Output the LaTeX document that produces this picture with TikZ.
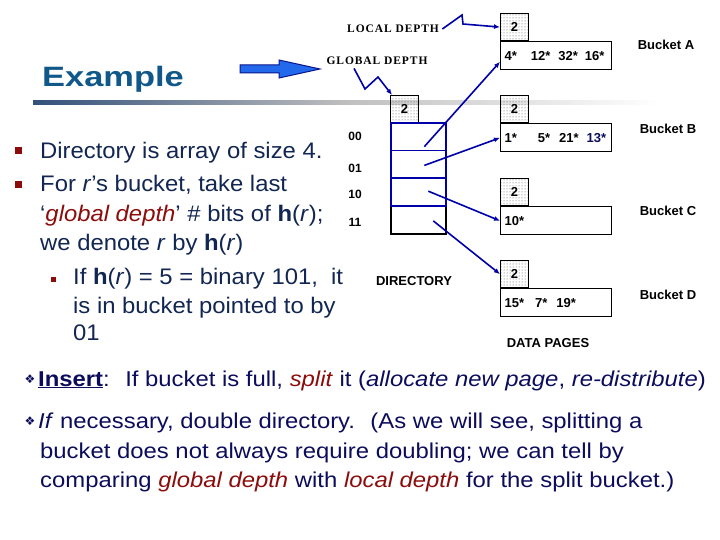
\documentclass[tikz,border=0pt]{standalone}
\usepackage{fontspec}
\setmainfont{Liberation Sans}
\newfontfamily\slidefont{Liberation Sans}[FakeStretch=1.06]
\newfontfamily\narrowfont{Liberation Sans}[FakeStretch=1.11]
\newfontfamily\titlefont{Liberation Sans}[FakeStretch=1.23]
\newfontfamily\labelserif{Liberation Serif}[LetterSpace=8]
\newfontfamily\symbfont{DejaVu Sans}
\usetikzlibrary{positioning,arrows.meta,patterns}

\definecolor{titleblue}{RGB}{16,88,138}
\definecolor{slidetext}{RGB}{18,38,82}
\definecolor{bottomtext}{RGB}{12,12,92}
\definecolor{darkred}{RGB}{140,12,12}
\definecolor{ptrblue}{RGB}{0,0,170}
\definecolor{arrowfill}{RGB}{35,105,235}
\definecolor{arrowedge}{RGB}{10,20,140}
\definecolor{ruleblue}{RGB}{50,80,122}
\newcommand{\boxfont}{\bfseries\fontsize{13}{13}\selectfont}

\begin{document}
\begin{tikzpicture}[x=1pt, y=-1pt, >={Latex[length=6pt,width=5pt]},
  lbox/.style={draw, line width=1.2pt, pattern=dots, pattern color=black!70,
    minimum width=28pt, minimum height=27pt, inner sep=0pt, font=\boxfont},
  dbox/.style={draw, fill=white, line width=1.2pt, minimum width=111pt, minimum height=28pt,
    inner sep=0pt, text width=103pt, align=left, font=\boxfont},
  dcell/.style={line width=1.6pt, minimum width=55pt, minimum height=27.75pt, inner sep=0pt},
  ptr/.style={->, ptrblue, line width=1.6pt},
  idx/.style={font=\bfseries\fontsize{12}{12}\selectfont},
  slideline/.style={anchor=base west, inner sep=0pt, text=slidetext, font=\slidefont\fontsize{22.5}{22.5}\selectfont},
  bottomline/.style={anchor=base west, inner sep=0pt, text=bottomtext, font=\narrowfont\fontsize{21.5}{21.5}\selectfont},
  sqbullet/.style={fill=darkred, inner sep=0pt, minimum size=7pt}]
  \useasboundingbox (0,0) rectangle (720,540);

  % title and rule
  \shade[left color=ruleblue, right color=white, middle color=black!25] (33,101) rectangle (660,105);
  \node[anchor=base west, inner sep=0pt, text=titleblue, font=\titlefont\bfseries\fontsize{28}{28}\selectfont] (title) at (42,87) {Example};

  % depth labels
  \node[font=\labelserif\bfseries\fontsize{11.5}{11.5}\selectfont] (ltext) at (393,29) {LOCAL DEPTH};
  \node[font=\labelserif\bfseries\fontsize{11.5}{11.5}\selectfont] (gtext) at (377,61) {GLOBAL DEPTH};
  \draw[fill=arrowfill, draw=arrowedge, line width=1pt] (240,65) -- (279,65) -- (279,60) -- (320,69) -- (279,78) -- (279,73) -- (240,73) -- cycle;

  % directory
  \node[lbox, anchor=north west] (gd) at (390,95) {2};
  \foreach \i/\c in {3/black,0/ptrblue,1/ptrblue,2/ptrblue}
    \node[dcell, draw=\c, anchor=north west] (dc\i) at (390,{122+27.75*\i}) {};
  \foreach \i/\b/\yy in {0/00/136,1/01/168,2/10/194,3/11/222}
    \node[idx] (b\i) at (355,\yy) {\b};
  \node[font=\boxfont] (dir) at (414,281) {DIRECTORY};

  % buckets
  \node[lbox, anchor=north west] (la) at (500,13) {2};
  \node[dbox, anchor=north west] (da) at (la.south west) {4*\hspace{14pt}12*\hspace{8pt}32*\hspace{7pt}16*};
  \node[lbox, anchor=north west] (lb) at (500,95) {2};
  \node[dbox, anchor=north west] (db) at (lb.south west) {1*\hspace{21pt}5*\hspace{9pt}21*\hspace{8pt}\textcolor{bottomtext}{13*}};
  \node[lbox, anchor=north west] (lc) at (500,178) {2};
  \node[dbox, anchor=north west] (dc) at (lc.south west) {10*};
  \node[lbox, anchor=north west] (ld) at (500,260) {2};
  \node[dbox, anchor=north west] (dd) at (ld.south west) {15*\hspace{11pt}7*\hspace{9pt}19*};
  \node[font=\boxfont] (nA) at (666,45) {Bucket A};
  \node[font=\boxfont] (nB) at (668,129) {Bucket B};
  \node[font=\boxfont] (nC) at (668,211) {Bucket C};
  \node[font=\boxfont] (nD) at (668,295) {Bucket D};
  \node[font=\boxfont] (pages) at (548,343) {DATA PAGES};

  % pointers
  \draw[ptr] (ltext.east) -- (462,15) -- (463,24) -- (la.west);
  \draw[ptr] ([xshift=31pt]gtext.south west) -- (365,89) -- (378,77) -- ([xshift=2pt]gd.north west);
  \draw[ptr] ([xshift=6pt,yshift=-10pt]dc0.center) -- ([yshift=-6pt]da.west);
  \draw[ptr] ([xshift=6pt,yshift=-1pt]dc1.center) -- (db.west);
  \draw[ptr] ([xshift=10pt,yshift=1pt]dc2.center) -- (dc.west);
  \draw[ptr] ([xshift=15pt,yshift=-1pt]dc3.center) -- (ld.west);

  % bullet text
  \node[sqbullet] (s1) at (18,151) {};
  \node[sqbullet] (s2) at (18,185) {};
  \node[sqbullet, minimum size=5pt] (s3) at (53,279) {};
  \node[slideline] (t1) at (40,159) {Directory is array of size 4.};
  \node[slideline] (t2) at (40,192) {For \textit{r}’s bucket, take last};
  \node[slideline] (t3) at (40,222) {‘\textcolor{darkred}{\textit{global depth}}’ \# bits of \textbf{h}(\textit{r});};
  \node[slideline] (t4) at (40,250) {we denote \textit{r} by \textbf{h}(\textit{r})};
  \node[slideline] (t5) at (73,284) {If \textbf{h}(\textit{r}) = 5 = binary 101,~ it};
  \node[slideline] (t6) at (73,313) {is in bucket pointed to by};
  \node[slideline] (t7) at (73,340) {01};

  % bottom text
  \node[text=bottomtext, font=\symbfont\fontsize{12}{12}\selectfont] (v1) at (30,379) {❖};
  \node[text=bottomtext, font=\symbfont\fontsize{12}{12}\selectfont] (v2) at (30,421) {❖};
  \node[bottomline] (u1) at (38,386) {\underline{\textbf{Insert}}:~ If bucket is full, \textcolor{darkred}{\textit{split}} it (\textit{allocate new page}, \textit{re-distribute})};
  \node[bottomline] (u2) at (38,428) {\textit{If} necessary, double directory.~ (As we will see, splitting a};
  \node[bottomline] (u3) at (40,458) {bucket does not always require doubling; we can tell by};
  \node[bottomline] (u4) at (40,487) {comparing \textcolor{darkred}{\textit{global depth}} with \textcolor{darkred}{\textit{local depth}} for the split bucket.)};
\end{tikzpicture}
\end{document}
